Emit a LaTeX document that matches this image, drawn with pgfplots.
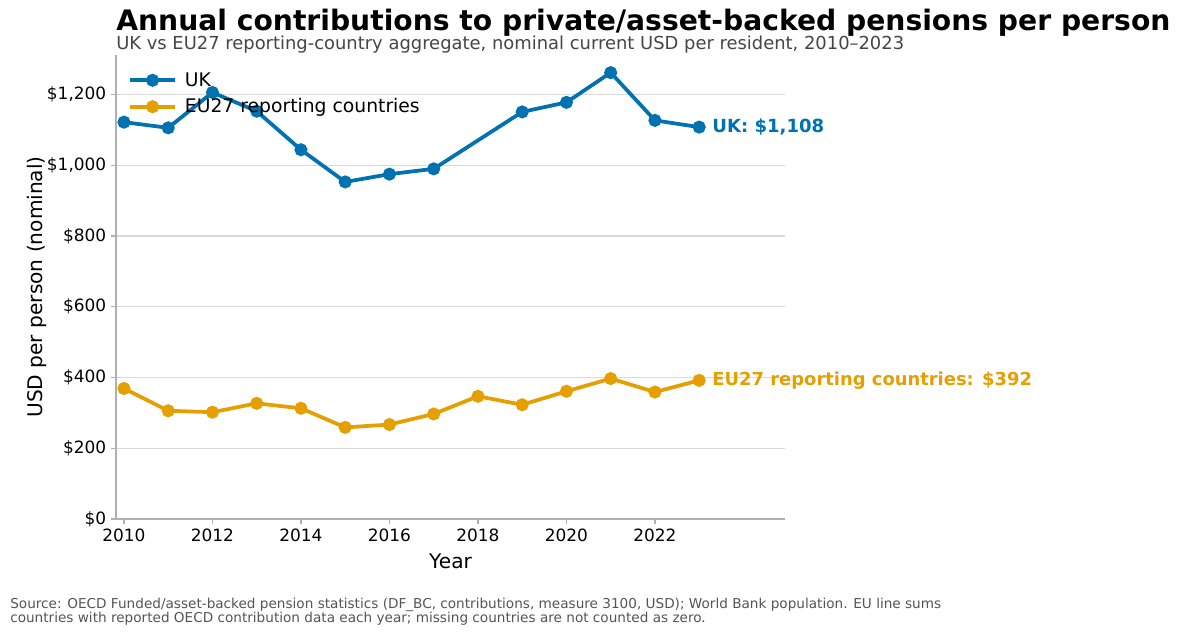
\documentclass[border=0pt]{standalone}
\usepackage{fontspec}
\setmainfont{DejaVu Sans}
\usepackage{pgfplots}
\pgfplotsset{compat=1.18}
\definecolor{ukblue}{HTML}{0072B2}
\definecolor{euorange}{HTML}{E69F00}
\definecolor{spine}{HTML}{B0B0B0}
\definecolor{gridc}{HTML}{DADADA}
\begin{document}
\begin{tikzpicture}[x=1pt,y=1pt]
\useasboundingbox (0,0) rectangle (864,457.2);
\begin{axis}[
  at={(83.52pt,83.52pt)}, anchor=south west,
  scale only axis, width=481.7pt, height=334.1pt,
  xmin=2009.82, xmax=2024.94, ymin=0, ymax=1312,
  axis x line*=bottom, axis y line*=left,
  axis line style={draw=spine, line width=0.8pt},
  tick align=outside, major tick length=3.5pt,
  every tick/.style={draw=spine, line width=0.8pt},
  xtick={2010,2012,...,2022},
  ytick={0,200,400,600,800,1000,1200},
  yticklabels={\$0,\$200,\$400,\$600,\$800,{\$1,000},{\$1,200}},
  /pgf/number format/1000 sep={},
  /pgf/number format/assume math mode=true,
  tick label style={font=\fontsize{12.2}{14}\selectfont, text=black},
  ymajorgrids, grid style={draw=gridc, line width=0.8pt},
  legend style={draw=none, fill=none, at={(0.012,0.975)}, anchor=north west,
    font=\fontsize{13.5}{16}\selectfont, row sep=3.5pt},
  legend cell align=left,
  legend image code/.code={\draw[#1,mark=none] (0pt,0pt) -- (32pt,0pt);
    \draw[#1] plot[only marks] coordinates {(16pt,0pt)};
    \path (36pt,0pt);},
  clip=false,
]
\addplot[color=ukblue, line width=2.7pt, mark=*, mark size=3.3pt] coordinates {
(2010,1122) (2011,1106) (2012,1206) (2013,1153) (2014,1044) (2015,953) (2016,975) (2017,990)
(2019,1151) (2020,1178) (2021,1262) (2022,1127) (2023,1108)};
\addlegendentry{UK}
\addplot[color=euorange, line width=2.7pt, mark=*, mark size=3.3pt] coordinates {
(2010,369) (2011,306) (2012,302) (2013,327) (2014,313) (2015,259) (2016,267) (2017,297)
(2018,347) (2019,323) (2020,361) (2021,397) (2022,359) (2023,392)};
\addlegendentry{EU27 reporting countries}
\node[anchor=west, text=ukblue, font=\bfseries\fontsize{13}{15}\selectfont, xshift=6pt] at (axis cs:2023,1108) {UK: \$1,108};
\node[anchor=west, text=euorange, font=\bfseries\fontsize{12.9}{15}\selectfont, xshift=6pt] at (axis cs:2023,392) {EU27 reporting countries: \$392};
\end{axis}
\node[anchor=base west, font=\bfseries\fontsize{20.3}{24}\selectfont, inner sep=0pt] at (83.52,434.9) {Annual contributions to private/asset-backed pensions per person};
\node[anchor=base west, font=\fontsize{12.9}{15}\selectfont, text=black!73, inner sep=0pt] at (83.52,421.2) {UK vs EU27 reporting-country aggregate, nominal current USD per resident, 2010–2023};
\node[font=\fontsize{14.5}{16}\selectfont] at (324.4,53.3) {Year};
\node[font=\fontsize{14.5}{16}\selectfont, rotate=90] at (26.6,250.6) {USD per person (nominal)};
\node[anchor=base west, font=\fontsize{9.8}{10}\selectfont, text=black!67, inner sep=0pt, align=left] at (7.2,19.2) {Source: OECD Funded/asset-backed pension statistics (DF\_BC, contributions, measure 3100, USD); World Bank population. EU line sums};
\node[anchor=base west, font=\fontsize{9.8}{10}\selectfont, text=black!67, inner sep=0pt, align=left] at (7.2,9.1) {countries with reported OECD contribution data each year; missing countries are not counted as zero.};
\end{tikzpicture}
\end{document}
